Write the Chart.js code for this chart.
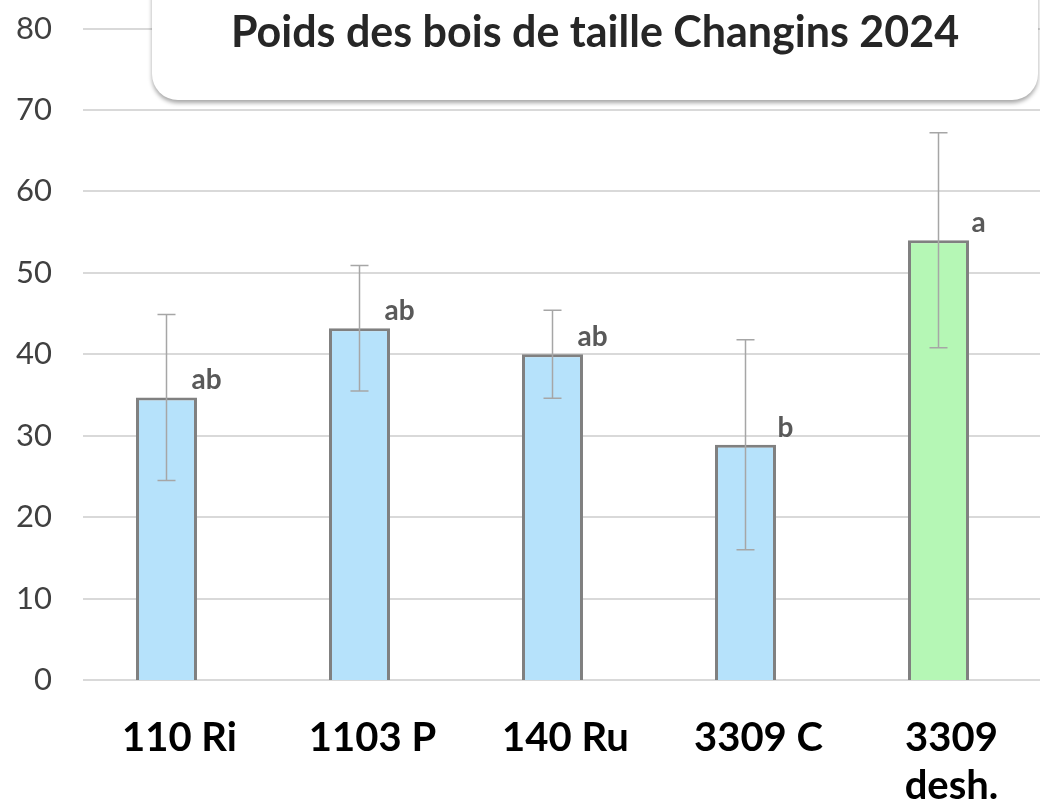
<!DOCTYPE html>
<html lang="fr">
<head>
<meta charset="utf-8">
<script src="https://cdn.jsdelivr.net/npm/chart.js@4.4.1/dist/chart.umd.min.js"></script>
<style>
    body { margin: 0; width: 1040px; height: 812px; overflow: hidden; background: #fff; position: relative; }
    #chart { position: absolute; left: 0; top: 0; }
    .title-box {
        position: absolute; left: 152px; top: -30px; width: 886px; height: 130px;
        background: #fff; border-radius: 26px;
        box-shadow: 0 3px 4px rgba(0, 0, 0, 0.35);
    }
    .title-text {
        position: absolute; left: 152px; top: 5px; width: 886px;
        text-align: center; font-family: Lato, sans-serif; font-weight: 700;
        font-size: 43px; line-height: 52px; color: #262626;
    }
</style>
</head>
<body>
<canvas id="chart" width="1050" height="812"></canvas>
<div class="title-box"></div>
<div class="title-text">Poids des bois de taille Changins 2024</div>
<script>
// Données
const categories = ['110 Ri', '1103 P', '140 Ru', '3309 C', ['3309', 'desh.']];
const weights = [34.7, 43.2, 40.0, 28.9, 54.0];
const errors = [10.2, 7.7, 5.4, 12.9, 13.2];
const letters = ['ab', 'ab', 'ab', 'b', 'a'];
const yTicks = [0, 10, 20, 30, 40, 50, 60, 70, 80];

const fillColors = ['#b6e2fb', '#b6e2fb', '#b6e2fb', '#b6e2fb', '#b5f7b5'];

// Lignes de grille horizontales (commencent un peu après l'axe)
const gridPlugin = {
    id: 'gridLines',
    beforeDatasetsDraw(chart) {
        const { ctx, scales: { y } } = chart;
        ctx.save();
        ctx.strokeStyle = '#d9d9d9';
        ctx.lineWidth = 2;
        yTicks.forEach(v => {
            const py = Math.round(y.getPixelForValue(v));
            ctx.beginPath();
            ctx.moveTo(83, py);
            ctx.lineTo(chart.width, py);
            ctx.stroke();
        });
        ctx.restore();
    }
};

// Barres d'erreur et lettres de significativité
const errorPlugin = {
    id: 'errorBars',
    afterDatasetsDraw(chart) {
        const { ctx, scales: { y } } = chart;
        const bars = chart.getDatasetMeta(0).data;
        ctx.save();
        bars.forEach((bar, i) => {
            const top = y.getPixelForValue(weights[i] + errors[i]);
            const bottom = y.getPixelForValue(weights[i] - errors[i]);
            ctx.strokeStyle = '#a6a6a6';
            ctx.lineWidth = 1.5;
            ctx.beginPath();
            ctx.moveTo(bar.x, top);
            ctx.lineTo(bar.x, bottom);
            ctx.moveTo(bar.x - 9, top);
            ctx.lineTo(bar.x + 9, top);
            ctx.moveTo(bar.x - 9, bottom);
            ctx.lineTo(bar.x + 9, bottom);
            ctx.stroke();

            ctx.fillStyle = '#595959';
            ctx.font = 'bold 28px Lato';
            ctx.textAlign = 'center';
            ctx.textBaseline = 'alphabetic';
            ctx.fillText(letters[i], bar.x + 40, bar.y - 8);
        });
        ctx.restore();
    }
};

new Chart(document.getElementById('chart'), {
    type: 'bar',
    data: {
        labels: categories,
        datasets: [{
            data: weights,
            backgroundColor: fillColors,
            borderColor: '#808080',
            borderWidth: 3,
            barPercentage: 0.316,
            categoryPercentage: 1
        }]
    },
    options: {
        responsive: false,
        animation: false,
        layout: { padding: { top: 18, right: 15, left: 0, bottom: 0 } },
        plugins: {
            legend: { display: false },
            tooltip: { enabled: false }
        },
        scales: {
            x: {
                grid: { display: false },
                border: { display: false },
                ticks: {
                    color: '#000',
                    font: { family: 'Lato', size: 40, weight: 'bold', lineHeight: 1.2 },
                    padding: 26,
                    labelOffset: 13,
                    maxRotation: 0
                },
                afterFit(scale) { scale.height = 132; }
            },
            y: {
                min: 0,
                max: 80,
                grid: { display: false },
                border: { display: false },
                ticks: {
                    stepSize: 10,
                    color: '#404040',
                    font: { family: 'Lato', size: 31 },
                    padding: 10
                },
                afterFit(scale) { scale.width = 70; }
            }
        }
    },
    plugins: [gridPlugin, errorPlugin]
});
</script>
</body>
</html>
